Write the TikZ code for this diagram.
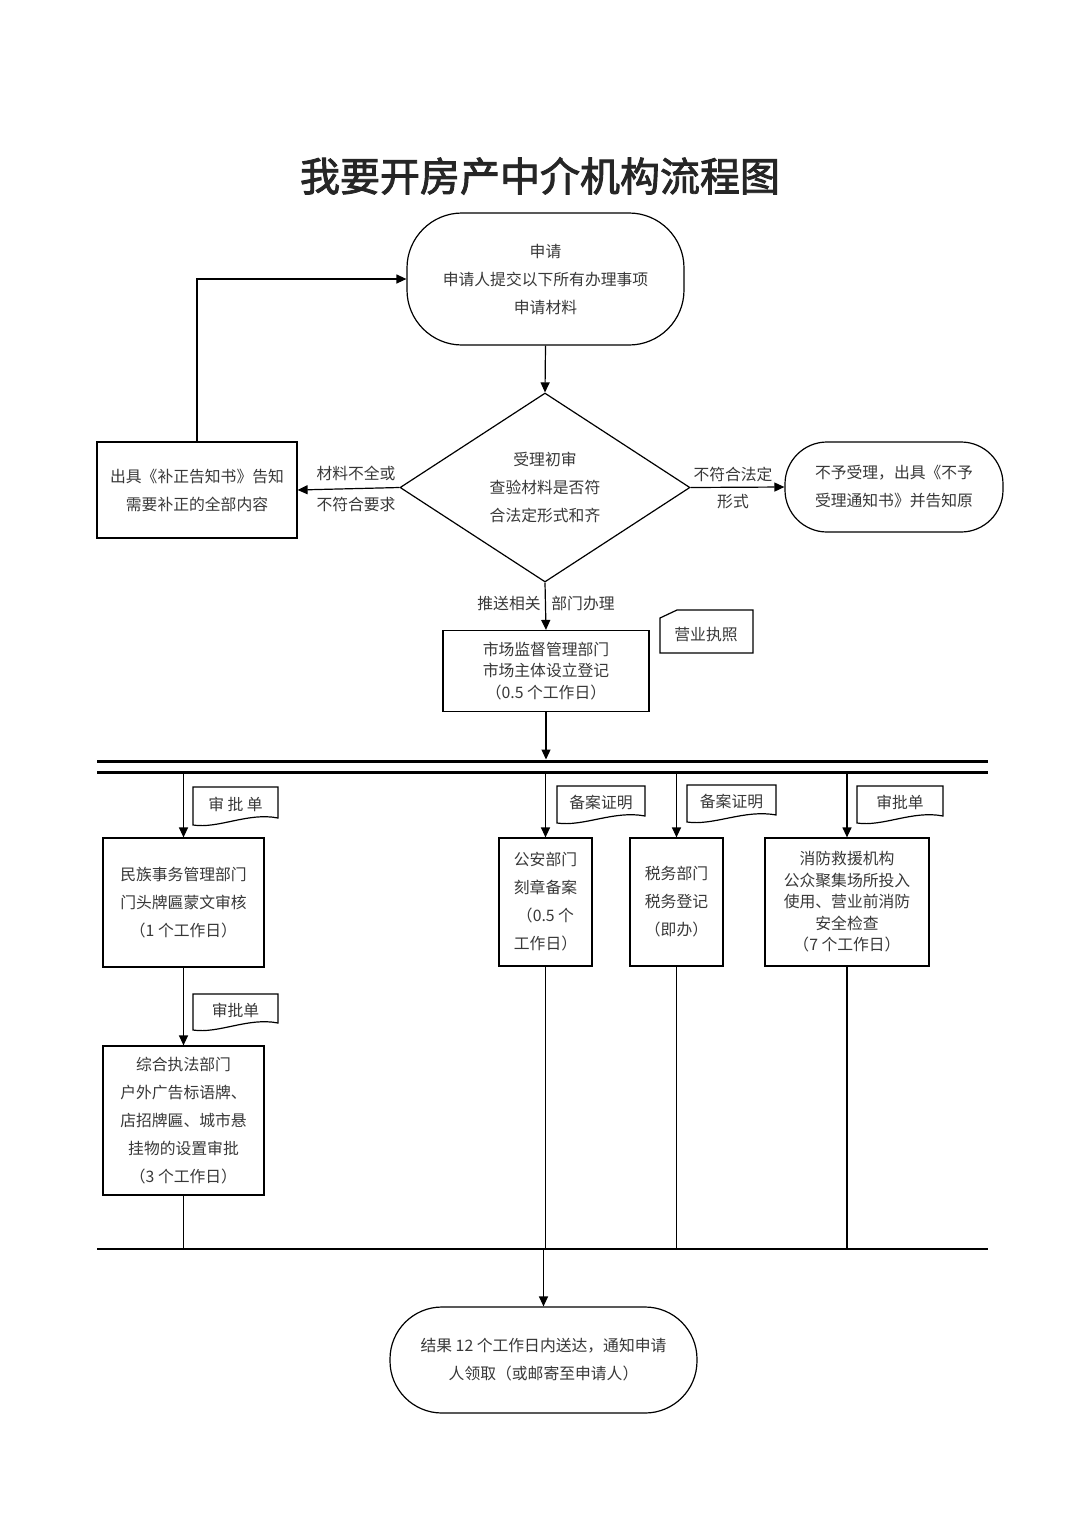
\documentclass[tikz,border=0pt]{standalone}
\usepackage{fontspec}
\newfontfamily\cjk{Noto Sans CJK SC}
\newfontfamily\cjktitle{Noto Sans CJK SC}[FakeBold=2.2]
\usetikzlibrary{arrows.meta,shapes.geometric}
\definecolor{txt}{gray}{0.22}
\tikzset{
  body/.style={font={\cjk\fontsize{15.8}{28}\selectfont}, text=txt},
  bodytight/.style={font={\cjk\fontsize{15.8}{21.5}\selectfont}, text=txt},
  box/.style={draw, line width=1.2pt, inner sep=0pt, align=center, body},
  term/.style={box, rounded corners=#1},
  arr/.style={-{Triangle[length=10pt,width=9pt]}, line width=1.2pt},
  ln/.style={line width=1.2pt},
  docline/.style={line width=1.2pt},
  lbl/.style={body, inner sep=0pt}
}
\newcommand\docbox[6]{%
  \draw[docline] (#2,#3) -- (#4,#3) -- (#4,#5-7)
    .. controls ({#2+0.65*(#4-#2)},#5-13) and ({#2+0.3*(#4-#2)},#5+4) .. (#2,#5) -- cycle;
  \node[lbl] (#1) at ({(#2+#4)/2},{(#3+#5)/2-2}) {#6};}
\begin{document}
\begin{tikzpicture}[x=1pt,y=-1pt]
\useasboundingbox (0,0) rectangle (1080,1527);
\fill[white] (0,0) rectangle (1080,1527);

\node[font={\cjktitle\fontsize{40}{44}\selectfont}, text=black!85] (title) at (540,176) {我要开房产中介机构流程图};

\node[term=55pt, minimum width=277pt, minimum height=132pt] (start) at (545.5,279)
  {申请\\申请人提交以下所有办理事项\\申请材料};

\node[draw, diamond, line width=1.2pt, inner sep=0pt, minimum width=290pt, minimum height=189pt, align=center, body] (dia) at (545,487.5)
  {受理初审\\查验材料是否符\\合法定形式和齐};

\node[box, minimum width=200pt, minimum height=96pt] (fix) at (197,490)
  {出具《补正告知书》告知\\需要补正的全部内容};

\node[term=42pt, minimum width=218pt, minimum height=90pt] (reject) at (894,487)
  {不予受理，出具《不予\\受理通知书》并告知原};

\node[box, bodytight, minimum width=206pt, minimum height=81pt] (market) at (546,671)
  {市场监督管理部门\\市场主体设立登记\\（0.5 个工作日）};

\draw[docline] (660,653) -- (660,618) -- (677,610) -- (753,610) -- (753,653) -- cycle;
\node[lbl] (yyzz) at (706,635) {营业执照};

% bus lines
\coordinate (busL) at (97,761);
\coordinate (busR) at (988,761);
\draw[line width=3pt] (busL) -- (busR);
\coordinate (bus2L) at (97,772);
\coordinate (bus2R) at (988,772);
\draw[line width=3pt] (bus2L) -- (bus2R);
\coordinate (busTop) at (546,759.5);

\node[box, minimum width=161pt, minimum height=129pt] (b1) at (183.5,902.5)
  {民族事务管理部门\\门头牌匾蒙文审核\\（1 个工作日）};
\node[box, minimum width=161pt, minimum height=149pt] (b2) at (183.5,1120.5)
  {综合执法部门\\户外广告标语牌、\\店招牌匾、城市悬\\挂物的设置审批\\（3 个工作日）};
\node[box, minimum width=93pt, minimum height=128pt] (b3) at (545.5,902)
  {公安部门\\刻章备案\\（0.5 个\\工作日）};
\node[box, minimum width=93pt, minimum height=128pt] (b4) at (676.5,902)
  {税务部门\\税务登记\\（即办）};
\node[box, bodytight, minimum width=164pt, minimum height=128pt] (b5) at (847,902)
  {消防救援机构\\公众聚集场所投入\\使用、营业前消防\\安全检查\\（7 个工作日）};

\docbox{d1}{193}{787}{278}{825}{审 批 单}
\docbox{d2}{193}{994}{278}{1030}{审批单}
\docbox{d3}{557}{786}{645}{823}{备案证明}
\docbox{d4}{687}{785}{776}{822}{备案证明}
\docbox{d5}{857}{786}{943}{823}{审批单}

\coordinate (botL) at (97,1249);
\coordinate (botR) at (988,1249);
\draw[ln] (botL) -- (botR);

\node[term=52pt, minimum width=307pt, minimum height=106pt] (end) at (543.5,1360)
  {结果 12 个工作日内送达，通知申请\\人领取（或邮寄至申请人）};

% connectors
\draw[arr] (start.south) -- (dia.north);
\draw[arr] (dia.west) -- (fix.east);
\draw[arr] (dia.east) -- (reject.west);
\draw[arr] (fix.north) |- (start.west);
\draw[arr] (dia.south) -- (market.north);
\draw[arr] (market.south) -- (busTop);

\node[lbl] (l1) at (356,473) {材料不全或};
\node[lbl] (l2) at (356,504) {不符合要求};
\node[lbl] (l3) at (733,474) {不符合法定};
\node[lbl] (l4) at (733,502) {形式};
\node[lbl] (l5) at (509,603) {推送相关};
\node[lbl] (l6) at (583,603) {部门办理};

\draw[arr] (b1.north |- bus2L) -- (b1.north);
\draw[arr] (b3.north |- bus2L) -- (b3.north);
\draw[arr] (b4.north |- bus2L) -- (b4.north);
\draw[arr] (b5.north |- bus2L) -- (b5.north);
\draw[arr] (b1.south) -- (b2.north);

\draw[ln] (b2.south) -- (b2.south |- botL);
\draw[ln] (b3.south) -- (b3.south |- botL);
\draw[ln] (b4.south) -- (b4.south |- botL);
\draw[ln] (b5.south) -- (b5.south |- botL);
\draw[arr] (end.north |- botL) -- (end.north);
\end{tikzpicture}
\end{document}
